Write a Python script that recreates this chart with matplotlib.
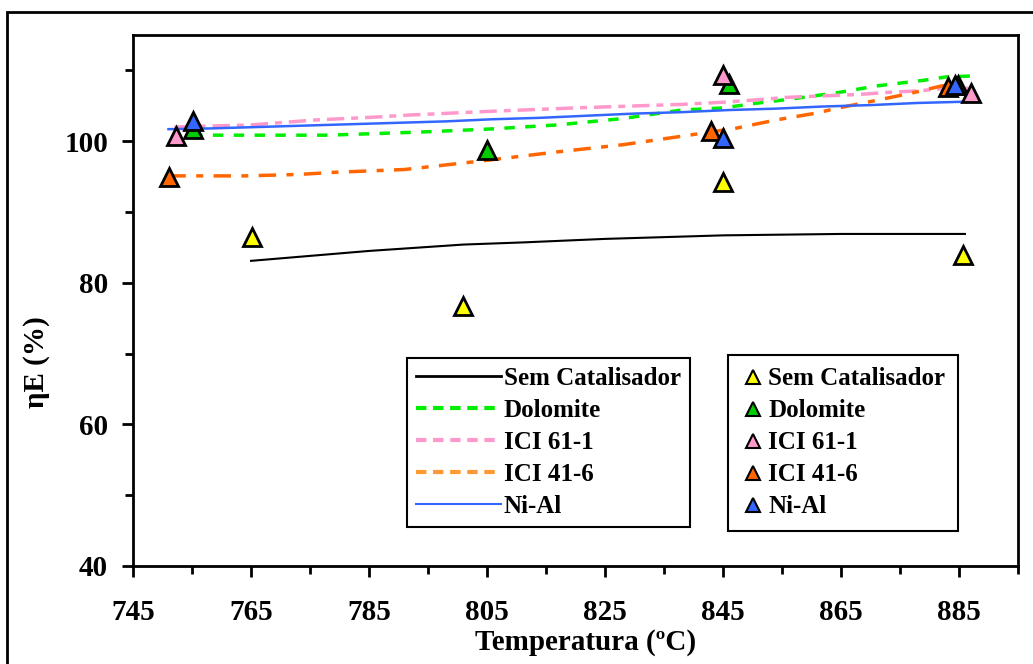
import matplotlib.pyplot as plt
from matplotlib.lines import Line2D
from matplotlib.patches import Rectangle

plt.rcParams['font.family'] = ['Liberation Serif', 'DejaVu Serif']
plt.rcParams['font.weight'] = 'bold'

# measured points (markers)
names = ["Sem Catalisador", "Dolomite", "ICI 61-1", "ICI 41-6", "Ni-Al"]
sem_x = [765.2, 801.0, 845.0, 885.7]
sem_y = [86.4, 76.7, 94.2, 83.9]
dol_x = [755.2, 805.0, 846.0, 884.8]
dol_y = [101.7, 98.7, 108.1, 108.0]
ici61_x = [752.3, 845.0, 887.0]
ici61_y = [100.8, 109.3, 106.8]
ici41_x = [751.1, 843.0, 883.1]
ici41_y = [94.9, 101.4, 107.6]
nial_x = [755.2, 845.0, 884.3]
nial_y = [102.8, 100.4, 108.0]

# model curves
sem_lx = [765, 785, 801, 811, 825, 845, 865, 886]
sem_ly = [83.1, 84.5, 85.4, 85.7, 86.2, 86.7, 86.9, 86.9]
dol_lx = [755, 778, 794, 805, 817, 828, 838, 845, 851, 856, 864, 871, 879, 883, 887]
dol_ly = [100.85, 100.85, 101.3, 101.7, 102.3, 103.2, 104.4, 104.7, 105.4, 105.9,
          106.8, 107.8, 108.6, 109.1, 109.2]
ici61_lx = [752, 765, 776, 786, 792, 805, 820, 838, 845, 850, 856, 862, 868, 873, 878, 882, 887]
ici61_ly = [102.0, 102.3, 103.0, 103.4, 103.7, 104.2, 104.7, 105.2, 105.5, 105.8,
            106.2, 106.4, 106.6, 106.9, 107.1, 107.4, 107.5]
ici41_lx = [751, 764, 773, 779, 791, 804, 817, 828, 838, 847, 854, 861, 864, 870, 877, 882, 886]
ici41_ly = [95.1, 95.1, 95.3, 95.6, 96.0, 97.2, 98.5, 99.5, 100.7, 101.8, 103.0,
            104.0, 104.6, 105.6, 106.8, 107.8, 108.2]
nial_lx = [751, 758, 766, 774, 782, 790, 798, 806, 814, 822, 830, 838, 846, 854,
           862, 870, 878, 887]
nial_ly = [101.7, 101.8, 102.0, 102.2, 102.4, 102.6, 102.8, 103.1, 103.3, 103.6,
           103.9, 104.1, 104.4, 104.6, 104.9, 105.1, 105.4, 105.6]

fig = plt.figure(figsize=(10.33, 6.64), dpi=100)
ax = fig.add_axes([0.1288, 0.1476, 0.8567, 0.7997])

# outer frame
fig.patches.append(Rectangle((0.0068, -0.2), 1.3, 1.182, transform=fig.transFigure,
                             fill=False, lw=2, color='black'))

ax.plot(sem_lx, sem_ly, color='black', lw=1.5)
ax.plot(dol_lx, dol_ly, color='#00EE00', lw=2.5, ls=(0, (3, 3)))
ax.plot(ici61_lx, ici61_ly, color='#FF99CC', lw=2.5, ls=(0, (5, 2, 2, 2)))
ax.plot(ici41_lx, ici41_ly, color='#FF6600', lw=2.5, ls=(0, (5, 3, 2, 3)))
ax.plot(nial_lx, nial_ly, color='#3366FF', lw=1.8)

mk_cols = ['#FFFF00', '#00CC00', '#FF99CC', '#FF6600', '#3366FF']
for (xs, ys), c in zip([(sem_x, sem_y), (dol_x, dol_y), (ici61_x, ici61_y),
                        (ici41_x, ici41_y), (nial_x, nial_y)], mk_cols):
    ax.plot(xs, ys, ls='none', marker='^', ms=13, mfc=c, mec='black', mew=2, zorder=5)

ax.set_xlim(745, 895)
ax.set_ylim(40, 115)
ax.set_xticks(range(745, 886, 20))
ax.set_xticks(range(755, 896, 20), minor=True)
ax.set_yticks([40, 60, 80, 100])
ax.set_yticks([50, 70, 90, 110], minor=True)
ax.tick_params(which='major', length=8, width=2, labelsize=21)
ax.tick_params(which='minor', length=6, width=2)
ax.tick_params(axis='x', which='major', pad=16)
ax.tick_params(axis='y', which='major', pad=10)
for s in ax.spines.values():
    s.set_linewidth(2)

ax.set_xlabel("Temperatura (ºC)", fontsize=21, fontweight='bold')
ax.set_ylabel("ηE (%)", fontsize=21, fontweight='bold')
ax.xaxis.set_label_coords(0.511, -0.118)
ax.yaxis.set_label_coords(-0.094, 0.384)

# legend for curves
leg_line_cols = ['black', '#00EE00', '#FF99CC', '#FF9933', '#3366FF']
leg_ls = ['-', (0, (2.5, 1.6)), (0, (2.5, 1.6)), (0, (2.5, 1.6)), '-']
leg_lw = [2, 3, 3, 3, 1.5]
h1 = [Line2D([], [], color=c, ls=s, lw=w) for c, s, w in zip(leg_line_cols, leg_ls, leg_lw)]
leg1 = ax.legend(h1, names, loc='upper left', bbox_to_anchor=(0.3096, 0.3917),
                 borderaxespad=0, fontsize=18, handlelength=3.4, handletextpad=0.12,
                 labelspacing=0.36, borderpad=0.35, fancybox=False, framealpha=1,
                 edgecolor='black')
leg1.get_frame().set_linewidth(1.5)
ax.add_artist(leg1)

h2 = [Line2D([], [], ls='none', marker='^', ms=10, mfc=c, mec='black', mew=1.5)
      for c in mk_cols]
leg2 = ax.legend(h2, names, loc='upper left', bbox_to_anchor=(0.6723, 0.3974),
                 borderaxespad=0, fontsize=18, handlelength=1.0, handletextpad=0.1,
                 labelspacing=0.36, borderpad=0.5, fancybox=False, framealpha=1,
                 edgecolor='black')
leg2.get_frame().set_linewidth(1.5)

fig.savefig("out.png", dpi=100)
